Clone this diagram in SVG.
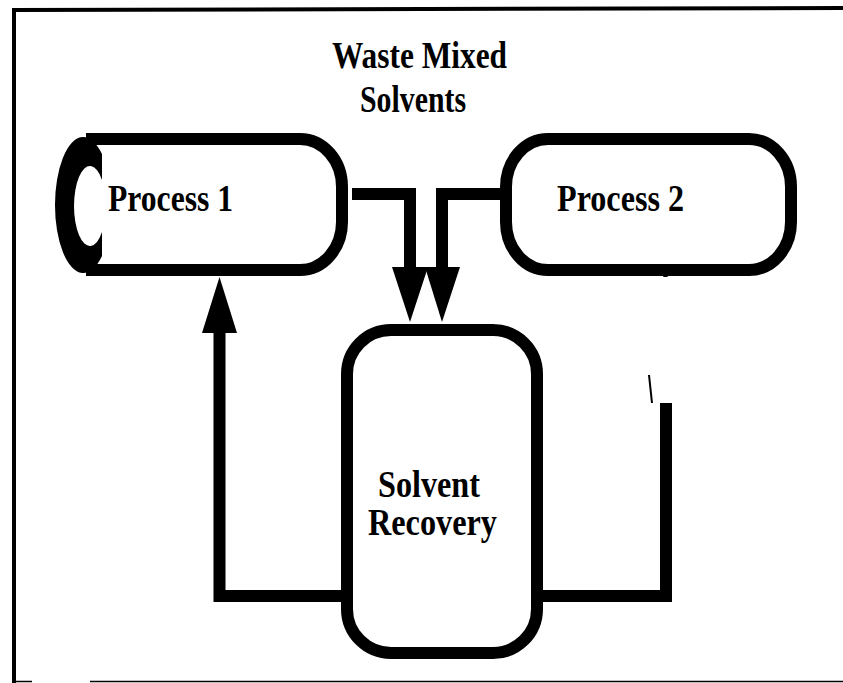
<svg xmlns="http://www.w3.org/2000/svg" width="843" height="683" viewBox="0 0 843 683">
<style>
.box{fill:#fff;stroke:#000;stroke-width:12}
.pipe{fill:none;stroke:#000;stroke-width:12;stroke-linejoin:miter;stroke-linecap:butt}
.lbl{font-family:"Liberation Serif","Times New Roman",serif;font-weight:bold;font-size:37px;fill:#000}
.frame{stroke:#000;fill:none}
</style>
<rect width="843" height="683" fill="#fff"/>
<g id="frame">
<line class="frame" x1="12" y1="10" x2="843" y2="8" stroke-width="4"/>
<line class="frame" x1="14" y1="8" x2="14" y2="683" stroke-width="4"/>
<line class="frame" x1="90" y1="681.5" x2="843" y2="681.5" stroke-width="1.5" stroke="#333"/>
<line class="frame" x1="16" y1="681.5" x2="32" y2="681.5" stroke-width="1.5" stroke="#888"/>
</g>
<g id="title">
<text class="lbl" x="332" y="68" textLength="175" lengthAdjust="spacingAndGlyphs">Waste Mixed</text>
<text class="lbl" x="360" y="112" textLength="106" lengthAdjust="spacingAndGlyphs">Solvents</text>
</g>
<g id="connectors">
<path class="pipe" d="M352,194 H410 V268"/>
<polygon points="392,267 428,267 410,322" fill="#000"/>
<path class="pipe" d="M500,194 H442 V268"/>
<polygon points="425,267 460,267 442,322" fill="#000"/>
<path class="pipe" d="M347,596 H219.5 V332"/>
<polygon points="202,333 237,333 219.5,277" fill="#000"/>
<path class="pipe" d="M537,596 H666 V403"/>
<line x1="649" y1="375" x2="652" y2="403" stroke="#000" stroke-width="2"/>
</g>
<g id="process1">
<path class="box" d="M86,139 H300 A42,48 0 0 1 342,187 V222 A42,48 0 0 1 300,270 H86"/>
<path d="M102,154 A28.3,68 0 1 0 102,256 L102,232 A15.9,40 0 1 1 102,180 Z" fill="#000"/>
<text class="lbl" x="108" y="211" textLength="125" lengthAdjust="spacingAndGlyphs">Process 1</text>
</g>
<g id="process2">
<rect class="box" x="506" y="139" width="285" height="131" rx="42" ry="48"/>
<path d="M663,277 l2,-4 l3,4 z" fill="#000"/>
<text class="lbl" x="557" y="211" textLength="127" lengthAdjust="spacingAndGlyphs">Process 2</text>
</g>
<g id="solvent-recovery">
<rect class="box" x="347" y="330" width="190" height="323" rx="44" ry="44"/>
<text class="lbl" x="378" y="497" textLength="102" lengthAdjust="spacingAndGlyphs">Solvent</text>
<text class="lbl" x="368" y="535" textLength="129" lengthAdjust="spacingAndGlyphs">Recovery</text>
</g>
</svg>
